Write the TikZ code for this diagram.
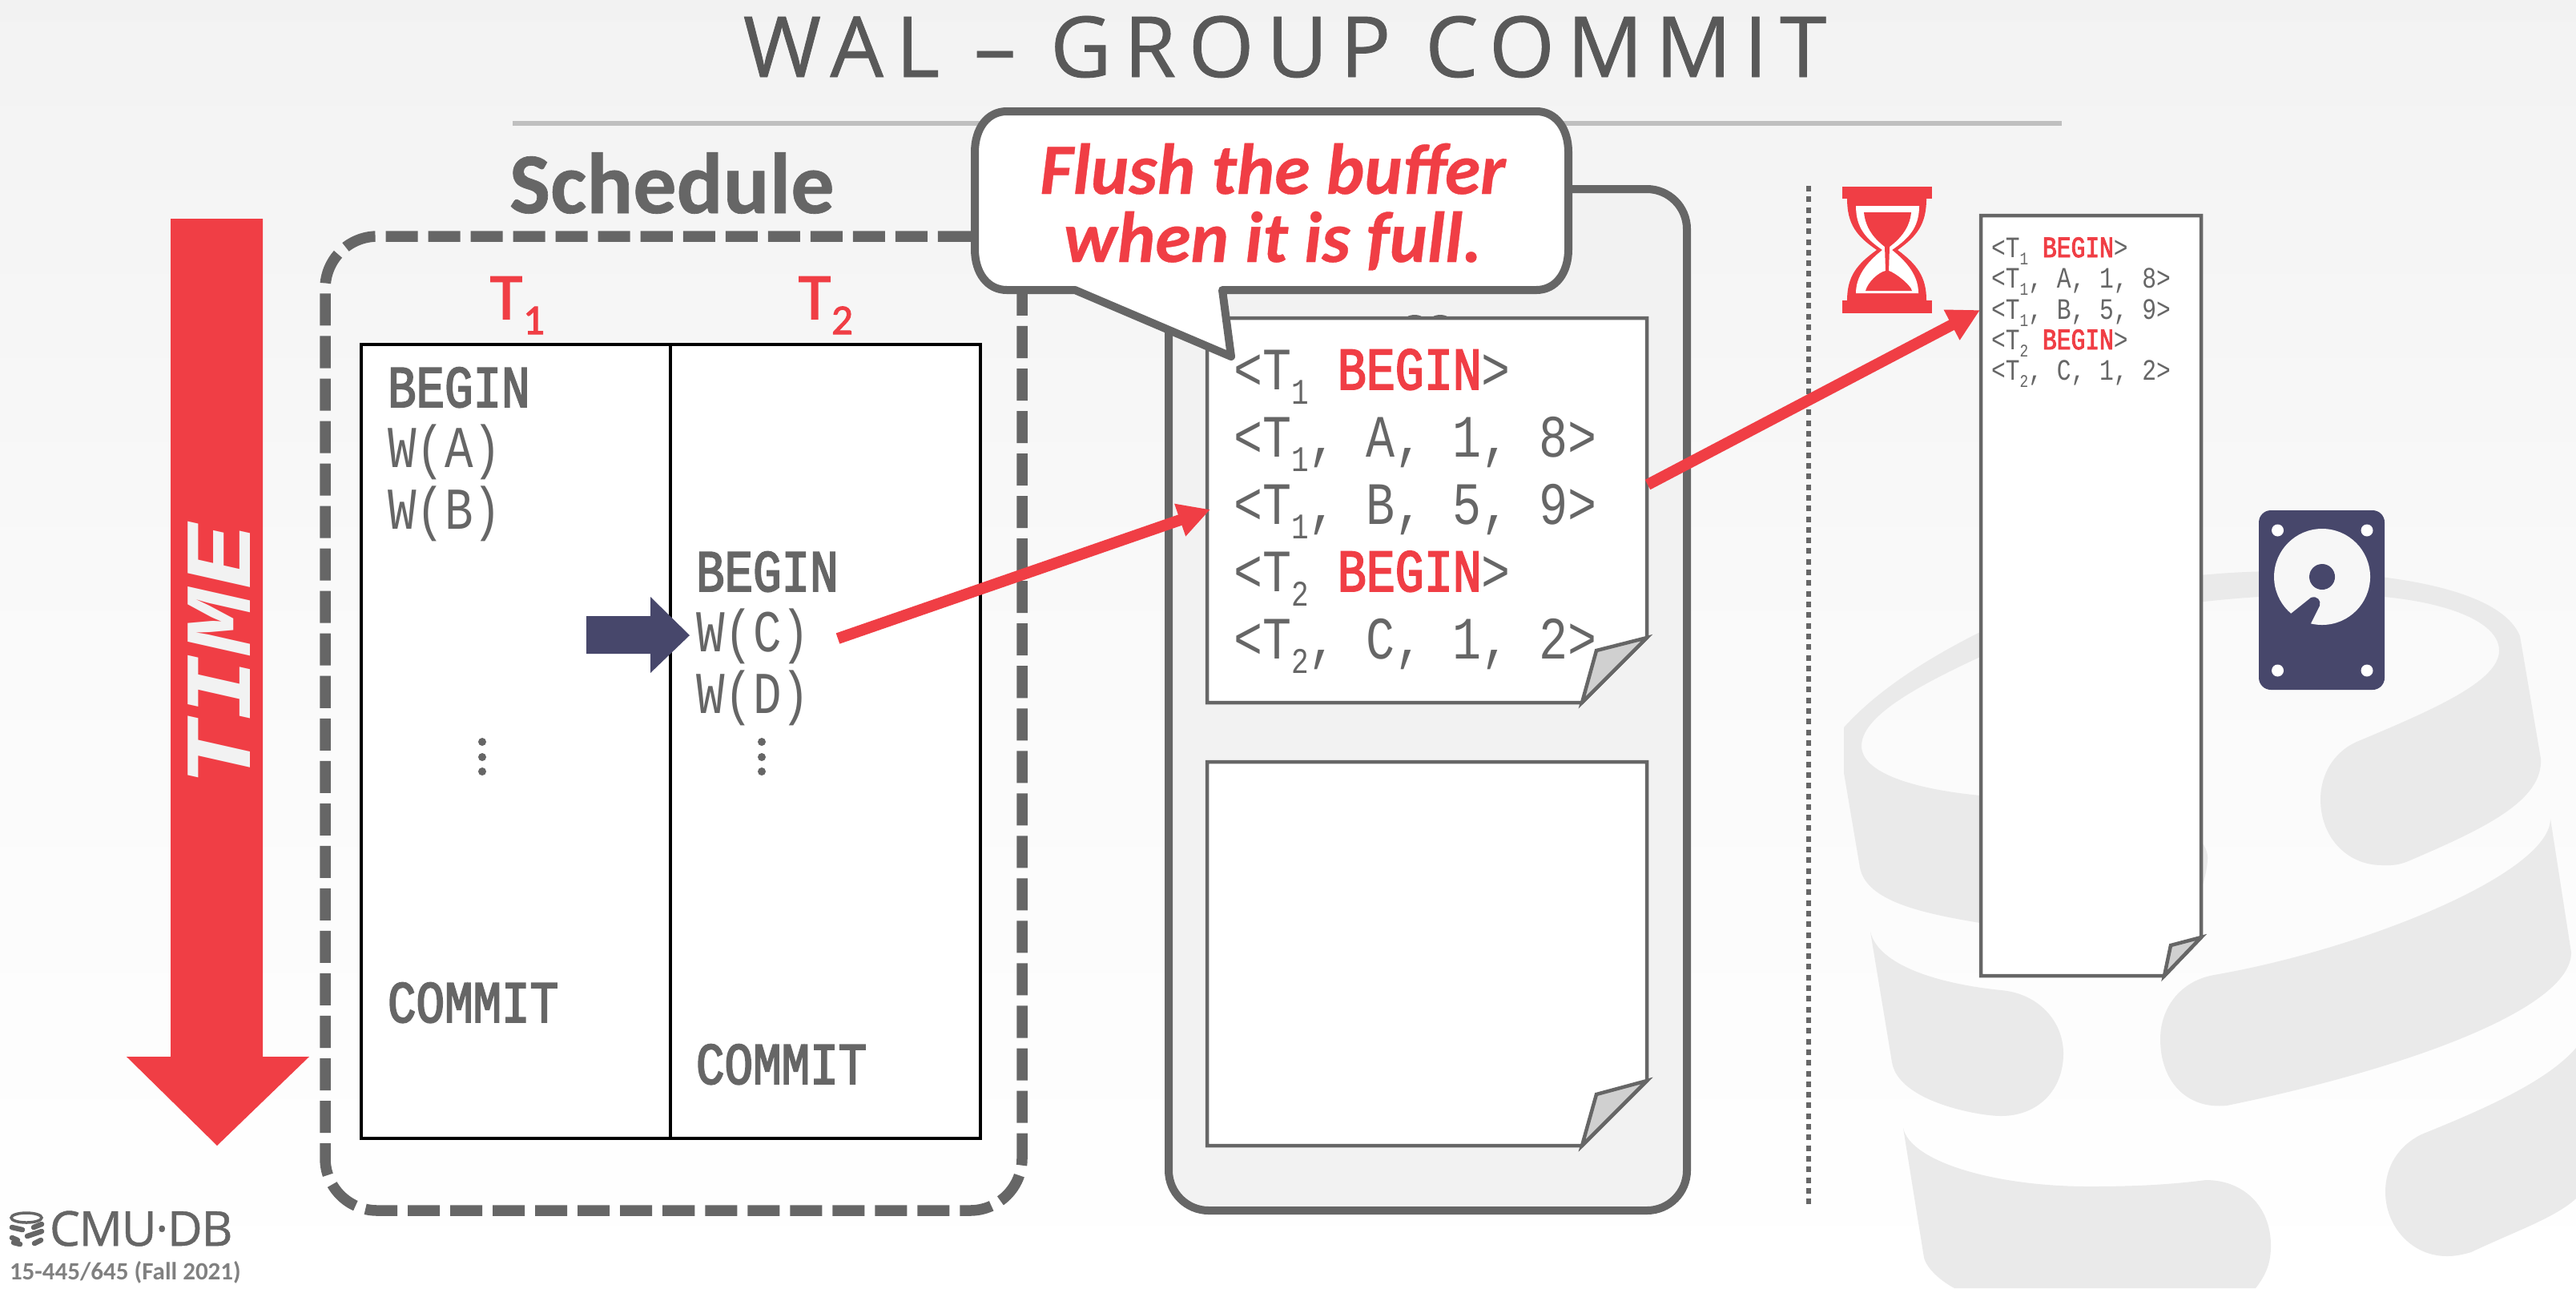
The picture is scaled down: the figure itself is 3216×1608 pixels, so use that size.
\documentclass[tikz,border=0pt]{standalone}
\usepackage{fontspec}
\usepackage{graphicx}
\usetikzlibrary{arrows.meta}
\setmainfont{Carlito}
\newfontfamily\monof[FakeStretch=0.8]{Liberation Mono}
\newfontfamily\monosemi[FakeStretch=0.8,FakeBold=2.5]{Liberation Mono}
\newfontfamily\titlef[LetterSpace=14.8,FakeBold=0.8]{Open Sans}
\newfontfamily\timef[FakeStretch=1.16]{Liberation Mono}
\newfontfamily\schedf[BoldFeatures={FakeBold=0.6}]{Carlito}
\newfontfamily\calloutf[BoldItalicFeatures={FakeBold=0.4}]{Carlito}
\newfontfamily\labelf[FakeBold=2]{Carlito}
\newfontfamily\cmuf[FakeBold=0.8,LetterSpace=-2]{Open Sans}
\newcommand\fs[1]{\fontsize{\fpeval{#1*0.28453}}{\fpeval{#1*0.3}}\selectfont}
\newcommand\sbd[1]{\raisebox{-0.25em}{\scalebox{0.6}{#1}}}
\newcommand\logT[1]{T\sbd{#1}}
\newcommand\rb[1]{{\monosemi\color{redc}#1}}
\definecolor{redc}{HTML}{F03E45}
\definecolor{grayc}{HTML}{666666}
\definecolor{navyc}{HTML}{47476B}
\definecolor{logoc}{HTML}{EAEAEA}
\definecolor{foldc}{HTML}{D0D0D0}
\tikzset{
  every node/.style={inner sep=0pt,outer sep=0pt},
  lbl/.style={anchor=base west,text=grayc,font=\monof\fs{74}},
  lblb/.style={anchor=base west,text=grayc,font=\monosemi\fs{74}},
  buftxt/.style={anchor=base west,text=grayc,font=\monof\fs{75}},
  logtxt/.style={anchor=base west,text=grayc,font=\monof\fs{37}},
  redarrow/.style={draw=redc,line width=1.4mm,-{Triangle[length=4mm,width=4mm]}},
  logoshape/.style={fill=logoc},
  docbox/.style={draw=grayc,line width=0.45mm,fill=white,line join=miter},
  foldbox/.style={draw=grayc,line width=0.45mm,fill=foldc,line join=miter},
  tblline/.style={draw=black,line width=0.42mm},
  vdots/.style={fill=grayc}
}
\begin{document}
\begin{tikzpicture}[x=0.01cm,y=-0.01cm]
\useasboundingbox (0,0) rectangle (3216,1608);
\fill[top color=black!5,bottom color=white,middle color=black!2] (0,0) rectangle (3216,1608);

% background logo
\fill[logoshape] (2302,908) .. controls (2345,860) and (2410,820) .. (2472,789)
 .. controls (2560,745) and (2700,713) .. (2850,713)
 .. controls (2960,713) and (3120,730) .. (3146,794)
 -- (3172,947) .. controls (3175,1000) and (3100,1035) .. (3004,1076)
 .. controls (2990,1081) and (2982,1080) .. (2974,1080)
 .. controls (2930,1080) and (2897,1045) .. (2897,998)
 .. controls (2897,965) and (2915,938) .. (2942,926)
 .. controls (3040,885) and (3120,850) .. (3120,812)
 .. controls (3120,770) and (3030,742) .. (2913,742)
 .. controls (2750,742) and (2580,770) .. (2472,820)
 .. controls (2390,858) and (2324,895) .. (2324,931)
 .. controls (2324,965) and (2390,985) .. (2472,993)
 .. controls (2540,1002) and (2620,1010) .. (2690,1020)
 .. controls (2730,1030) and (2756,1050) .. (2756,1070)
 .. controls (2756,1100) and (2735,1165) .. (2680,1165)
 .. controls (2600,1165) and (2530,1160) .. (2472,1152)
 .. controls (2400,1140) and (2330,1125) .. (2322,1083)
 -- (2302,965) -- cycle;
\fill[logoshape] (2335,1163) .. controls (2345,1205) and (2420,1228) .. (2498,1236)
 .. controls (2545,1240) and (2576,1275) .. (2576,1315)
 .. controls (2576,1360) and (2545,1393) .. (2498,1393)
 .. controls (2470,1393) and (2370,1375) .. (2362,1326) -- cycle;
\fill[logoshape] (3184,1022) -- (3210,1189) .. controls (3210,1260) and (3000,1335) .. (2780,1380)
 .. controls (2730,1385) and (2697,1350) .. (2697,1297)
 .. controls (2697,1260) and (2720,1225) .. (2764,1217)
 .. controls (2950,1185) and (3184,1090) .. (3184,1022) -- cycle;
\fill[logoshape] (2376,1408) -- (2402,1570) .. controls (2406,1585) and (2425,1600) .. (2440,1608)
 -- (2816,1608) .. controls (2830,1590) and (2835,1575) .. (2835,1555)
 .. controls (2835,1505) and (2800,1473) .. (2754,1473)
 .. controls (2700,1480) and (2650,1481) .. (2608,1481)
 .. controls (2490,1481) and (2385,1450) .. (2376,1408) -- cycle;
\fill[logoshape] (3216,1308) .. controls (3180,1350) and (3100,1385) .. (3023,1416)
 .. controls (2995,1430) and (2978,1455) .. (2978,1488)
 .. controls (2978,1530) and (3010,1568) .. (3055,1568)
 .. controls (3065,1568) and (3075,1566) .. (3085,1563)
 .. controls (3140,1537) and (3190,1520) .. (3216,1496) -- cycle;

% title
\node (title) [anchor=base,text=black!65,font=\titlef\fs{105}] at (1604,96) {WAL – GROUP COMMIT};
\draw[draw=black!25,line width=0.55mm] (640,154) -- (2574,154);
\node (schedtitle) [anchor=base west,text=grayc,font=\schedf\bfseries\fs{108}] at (636,266) {Schedule};

% time arrow
\fill[redc] (213,273) -- (328,273) -- (328,1319) -- (386,1319) -- (271,1430) -- (158,1319) -- (213,1319) -- cycle;
\node (time) [rotate=90,text=black!5,font=\timef\bfseries\itshape\fs{118}] at (274,818) {TIME};

% schedule box
\draw[grayc,line width=1.35mm,dash pattern=on 4mm off 1.3mm,rounded corners=6.5mm] (1276,295) -- (406,295) -- (406,1511) -- (1276,1511) -- cycle;
\draw[tblline,fill=white] (451,430) rectangle (1224,1421);
\draw[tblline] (837,430) -- (837,1421);
\node (t1) [anchor=base west,text=redc,font=\labelf\fs{82}] at (612,398) {T};
\node (t1s) [anchor=base west,text=redc,font=\labelf\fs{53}] at (653,417) {1};
\node (t2) [anchor=base west,text=redc,font=\labelf\fs{82}] at (997,398) {T};
\node (t2s) [anchor=base west,text=redc,font=\labelf\fs{53}] at (1038,417) {2};

\node (b1) [lblb] at (484,508) {BEGIN};
\node (wa) [lbl] at (484,583) {W(A)};
\node (wb) [lbl] at (484,660) {W(B)};
\node (c1) [lblb] at (484,1276) {COMMIT};
\node (b2) [lblb] at (869,738) {BEGIN};
\node (wc) [lbl] at (869,813) {W(C)};
\node (wd) [lbl] at (869,890) {W(D)};
\node (c2) [lblb] at (869,1353) {COMMIT};
\foreach \yy in {926,945,963} {
  \fill[vdots] (602,\yy) circle[radius=5];
  \fill[vdots] (951,\yy) circle[radius=5];
}
\fill[navyc] (732,769) -- (812,769) -- (812,745) -- (861,793) -- (812,840) -- (812,816) -- (732,816) -- cycle;

% log buffer panel
\draw[grayc,line width=1mm,fill=black!5,rounded corners=5mm] (1459,236) rectangle (2106,1511);
\fill[grayc] (1766,397) ellipse[x radius=10,y radius=4];
\fill[grayc] (1798,397) ellipse[x radius=10,y radius=4];
\draw[docbox] (1507,397) -- (2056,397) -- (2056,796) -- (1975,877) -- (1507,877) -- cycle;
\draw[foldbox] (1975,877) -- (1993,812) -- (2056,796) -- cycle;
\draw[docbox] (1507,951) -- (2056,951) -- (2056,1349) -- (1975,1430) -- (1507,1430) -- cycle;
\draw[foldbox] (1975,1430) -- (1993,1366) -- (2056,1349) -- cycle;
\node (l1) [buftxt] at (1540,486) {<\logT{1} \rb{BEGIN}>};
\node (l2) [buftxt] at (1540,570) {<\logT{1}, A, 1, 8>};
\node (l3) [buftxt] at (1540,654) {<\logT{1}, B, 5, 9>};
\node (l4) [buftxt] at (1540,738) {<\logT{2} \rb{BEGIN}>};
\node (l5) [buftxt] at (1540,822) {<\logT{2}, C, 1, 2>};

% dotted divider
\draw[grayc,line width=0.65mm,dash pattern=on 0.7mm off 0.63mm] (2258,232) -- (2258,1504);

% hourglass
\fill[redc] (2300,233) rectangle (2412,248);
\fill[redc] (2300,375) rectangle (2412,391);
\fill[redc] (2306,248) .. controls (2306,280) and (2318,295) .. (2343,312)
 .. controls (2318,330) and (2306,345) .. (2306,375) -- (2405,375)
 .. controls (2405,345) and (2393,330) .. (2369,312)
 .. controls (2393,295) and (2405,280) .. (2405,248) -- cycle;
\fill[white] (2317,257) .. controls (2317,285) and (2330,298) .. (2350,312)
 .. controls (2330,328) and (2317,345) .. (2317,366) -- (2395,366)
 .. controls (2395,345) and (2382,328) .. (2362,312)
 .. controls (2382,298) and (2396,285) .. (2396,257) -- cycle;
\fill[redc] (2327,265) -- (2386,265) .. controls (2384,285) and (2372,298) .. (2359,308)
 -- (2358,338) .. controls (2365,340) and (2385,355) .. (2387,363) -- (2329,363)
 .. controls (2332,352) and (2345,340) .. (2354,338) -- (2353,308)
 .. controls (2340,298) and (2329,285) .. (2327,265) -- cycle;

% on-disk log
\draw[docbox] (2473,269) -- (2748,269) -- (2748,1170) -- (2702,1218) -- (2473,1218) -- cycle;
\draw[foldbox] (2702,1218) -- (2710,1180) -- (2748,1170) -- cycle;
\node (d1) [logtxt] at (2486,321) {<\logT{1} \rb{BEGIN}>};
\node (d2) [logtxt] at (2486,359) {<\logT{1}, A, 1, 8>};
\node (d3) [logtxt] at (2486,398) {<\logT{1}, B, 5, 9>};
\node (d4) [logtxt] at (2486,436) {<\logT{2} \rb{BEGIN}>};
\node (d5) [logtxt] at (2486,474) {<\logT{2}, C, 1, 2>};

% disk
\fill[navyc,rounded corners=1.5mm] (2820,637) rectangle (2977,861);
\fill[black!3] (2899,720) circle[radius=60];
\fill[navyc] (2899,720) circle[radius=16];
\fill[navyc] (2860,766) -- (2885,746) .. controls (2893,743) and (2898,750) .. (2896,756) -- (2884,780) -- (2870,790) -- cycle;
\foreach \xx in {2843.5,2955} { \foreach \yy in {662,837} { \fill[white] (\xx,\yy) circle[radius=7.5]; } }

% arrows
\coordinate (wcout) at (1046,797);
\coordinate (bufin) at (1511,636);
\coordinate (bufout) at (2057,605);
\coordinate (login) at (2472,387);
\draw[redarrow] (wcout) -- (bufin);
\draw[redarrow] (bufout) -- (login);

% callout
\draw[grayc,line width=1mm,fill=white,line join=round]
 (1257,139) -- (1918,139) .. controls (1942,139) and (1958,160) .. (1958,190)
 -- (1958,311) .. controls (1958,341) and (1942,362) .. (1918,362)
 -- (1526,362) -- (1537,445) -- (1342,362) -- (1257,362)
 .. controls (1233,362) and (1217,341) .. (1217,311) -- (1217,190)
 .. controls (1217,160) and (1233,139) .. (1257,139) -- cycle;
\node (c1a) [anchor=base,text=redc,font=\calloutf\bfseries\itshape\fs{90}] at (1589,242) {Flush the buffer};
\node (c1b) [anchor=base,text=redc,font=\calloutf\bfseries\itshape\fs{90}] at (1589,327) {when it is full.};

% footer
\draw[grayc,line width=0.35mm] (33,1520) ellipse[x radius=19,y radius=6];
\draw[grayc,line width=0.65mm,line cap=round] (15,1532) -- (28,1535);
\draw[grayc,line width=0.65mm,line cap=round] (52,1528) -- (42,1532);
\draw[grayc,line width=0.65mm,line cap=round] (15,1545) -- (22,1548);
\draw[grayc,line width=0.65mm,line cap=round] (52,1537) -- (34,1543);
\draw[grayc,line width=0.65mm,line cap=round] (17,1551) -- (25,1553);
\draw[grayc,line width=0.65mm,line cap=round] (51,1548) -- (43,1552);
\node (cmu) [anchor=base west,text=grayc,font=\cmuf\fs{60}] at (62,1555) {CMU·DB};
\node (course) [anchor=base west,text=black!50,font=\bfseries\fs{31}] at (12,1597) {15-445/645 (Fall 2021)};
\end{tikzpicture}
\end{document}
